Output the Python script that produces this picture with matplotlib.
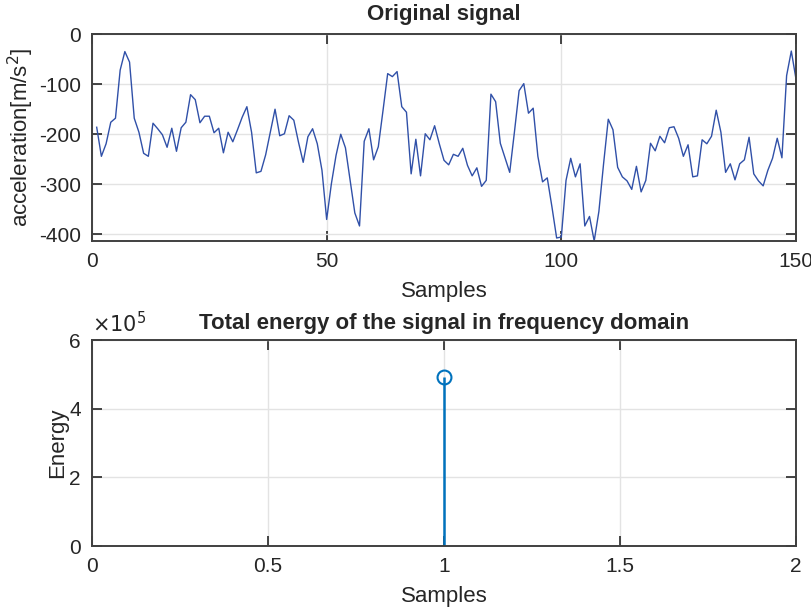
import matplotlib
matplotlib.use('Agg')
import matplotlib.pyplot as plt
import numpy as np

# senal de aceleracion (muestras 1..150)
aceleracion = [
    -186, -244, -219, -176, -168, -72, -35, -56, -168, -196,
    -238, -244, -178, -189, -201, -226, -188, -234, -187, -176,
    -121, -131, -177, -164, -164, -197, -188, -237, -196, -215,
    -191, -166, -145, -196, -277, -274, -241, -195, -150, -203,
    -199, -163, -172, -216, -256, -205, -189, -219, -272, -370,
    -299, -242, -200, -227, -292, -357, -383, -214, -189, -251,
    -225, -153, -79, -85, -75, -145, -156, -279, -210, -283,
    -199, -211, -183, -219, -252, -261, -240, -244, -228, -262,
    -283, -267, -304, -292, -120, -135, -218, -247, -276, -196,
    -113, -99, -158, -148, -244, -295, -287, -345, -407, -405,
    -292, -248, -285, -259, -383, -364, -413, -354, -259, -170,
    -191, -266, -285, -293, -310, -264, -315, -292, -218, -233,
    -204, -217, -187, -185, -208, -244, -221, -285, -283, -211,
    -219, -204, -152, -196, -276, -259, -291, -259, -251, -206,
    -279, -293, -303, -272, -248, -208, -247, -83, -34, -90,
]
muestras = np.arange(1, len(aceleracion) + 1)

# energia total en el dominio de la frecuencia
indice_energia = [1]
energia = [4.92e5]

plt.rcParams['font.family'] = ['Liberation Sans', 'DejaVu Sans']
plt.rcParams['axes.unicode_minus'] = False
gris = '#262626'
plt.rcParams['text.color'] = gris
plt.rcParams['axes.labelcolor'] = gris


def estilo_matlab(ax):
    for s in ax.spines.values():
        s.set_color('#404040')
        s.set_linewidth(1.4)
    ax.tick_params(direction='in', length=7, width=1.2, top=True, right=True,
                   labelsize=15, pad=8, colors=gris)
    ax.grid(True, color='#e3e3e3', linewidth=1.0)
    ax.set_axisbelow(True)


fig = plt.figure(figsize=(8.12, 6.12), dpi=100)

# Senal original
ax1 = fig.add_axes([0.1133, 0.6062, 0.867, 0.3382])
ax1.plot(muestras, aceleracion, color='#3050A8', linewidth=1.0)
ax1.set_xlim(0, 150)
ax1.set_ylim(min(aceleracion), 0)
ax1.set_xticks([0, 50, 100, 150])
ax1.set_yticks([-400, -300, -200, -100, 0])
ax1.set_xlabel('Samples', fontsize=16, labelpad=7)
ax1.set_ylabel('acceleration[m/s$^2$]', fontsize=16)
ax1.yaxis.set_label_coords(-0.079, 0.5)
ax1.set_title('Original signal', fontsize=16, fontweight='bold', pad=10)
estilo_matlab(ax1)

# Energia
ax2 = fig.add_axes([0.1133, 0.1078, 0.867, 0.3366])
ml, sl, bl = ax2.stem(indice_energia, energia)
plt.setp(ml, color='#0072BD', marker='o', markersize=10,
         markerfacecolor='none', markeredgewidth=1.5)
plt.setp(sl, color='#0072BD', linewidth=1.8)
bl.set_visible(False)
ax2.set_xlim(0, 2)
ax2.set_ylim(0, 6e5)
ax2.set_xticks([0, 0.5, 1, 1.5, 2])
ax2.set_xticklabels(['0', '0.5', '1', '1.5', '2'])
ax2.set_yticks([0, 2e5, 4e5, 6e5])
ax2.set_yticklabels(['0', '2', '4', '6'])
ax2.text(0.0, 1.02, r'$\times10^{5}$', transform=ax2.transAxes,
         fontsize=15, ha='left', va='bottom', color=gris)
ax2.set_xlabel('Samples', fontsize=16, labelpad=7)
ax2.set_ylabel('Energy', fontsize=16)
ax2.yaxis.set_label_coords(-0.034, 0.5)
ax2.set_title('Total energy of the signal in frequency domain',
              fontsize=16, fontweight='bold', pad=8)
estilo_matlab(ax2)

fig.savefig('out.png', dpi=100)
